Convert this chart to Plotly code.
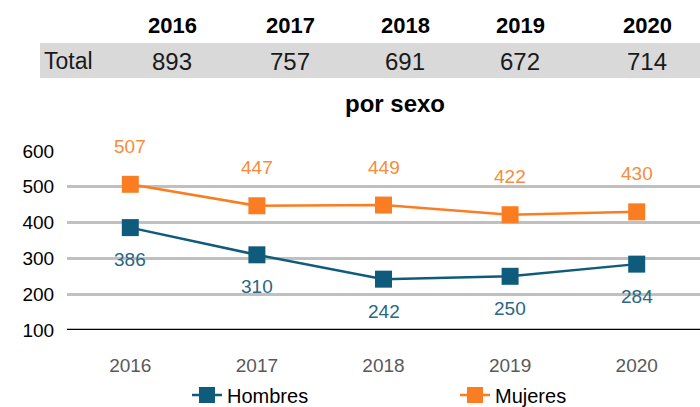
import plotly.graph_objects as go

years = ["2016", "2017", "2018", "2019", "2020"]
totals = [893, 757, 691, 672, 714]
hombres = [386, 310, 242, 250, 284]
mujeres = [507, 447, 449, 422, 430]

C_H = "#0F5B7B"
C_M = "#FB7D22"
FONT = "Liberation Sans, Arial, sans-serif"

W, H = 700, 407
ML, MR, MT, MB = 67, 0, 151, 77
PW, PH = W - ML - MR, H - MT - MB


def px_x(p):
    return (p - ML) / PW


def px_y(p):
    return (H - MB - p) / PH


fig = go.Figure()
fig.add_trace(go.Scatter(x=years, y=hombres, mode="lines+markers", name="Hombres",
                         line=dict(color=C_H, width=2.5), legend="legend",
                         marker=dict(symbol="square", size=17, color=C_H)))
fig.add_trace(go.Scatter(x=years, y=mujeres, mode="lines+markers", name="Mujeres",
                         line=dict(color=C_M, width=2.5), legend="legend2",
                         marker=dict(symbol="square", size=17, color=C_M)))

ann = []
for i, v in enumerate(mujeres):
    ann.append(dict(x=i, y=v, xref="x", yref="y", text=str(v), showarrow=False, yshift=38,
                    xanchor="center", yanchor="middle",
                    font=dict(family=FONT, size=19, color="#F98B3C")))
for i, v in enumerate(hombres):
    ann.append(dict(x=i, y=v, xref="x", yref="y", text=str(v), showarrow=False, yshift=-32,
                    xanchor="center", yanchor="middle",
                    font=dict(family=FONT, size=19, color="#2A6685")))

# Table at top
table_x = [172, 290, 405, 520, 647]
shapes = [dict(type="rect", xref="paper", yref="paper",
               x0=px_x(40), x1=px_x(700), y0=px_y(78), y1=px_y(43),
               fillcolor="#D9D9D9", line=dict(width=0), layer="below")]
for px, y, t in zip(table_x, years, totals):
    ann.append(dict(xref="paper", yref="paper", x=px_x(px), y=px_y(25), text="<b>%s</b>" % y,
                    showarrow=False, xanchor="center", yanchor="middle",
                    font=dict(family=FONT, size=22, color="#000000")))
    ann.append(dict(xref="paper", yref="paper", x=px_x(px), y=px_y(61), text=str(t),
                    showarrow=False, xanchor="center", yanchor="middle",
                    font=dict(family=FONT, size=24, color="#1A1A1A")))
ann.append(dict(xref="paper", yref="paper", x=px_x(42), y=px_y(61), text="Total",
                xanchor="left", yanchor="middle",
                showarrow=False, font=dict(family=FONT, size=23, color="#1A1A1A")))
ann.append(dict(xref="paper", yref="paper", x=px_x(395), y=px_y(103), text="<b>por sexo</b>",
                xanchor="center", yanchor="middle",
                showarrow=False, font=dict(family=FONT, size=24, color="#000000")))

shapes.append(dict(type="line", xref="paper", yref="y", x0=0, x1=1, y0=100, y1=100,
                   line=dict(color="#000000", width=2.5)))

leg_font = dict(family=FONT, size=20, color="#000000")
fig.update_layout(
    width=W, height=H, margin=dict(l=ML, r=MR, t=MT, b=MB, autoexpand=False),
    paper_bgcolor="white", plot_bgcolor="white",
    showlegend=True,
    legend=dict(orientation="h", x=px_x(187), y=px_y(395), xanchor="left", yanchor="middle",
                font=leg_font, bgcolor="rgba(0,0,0,0)"),
    legend2=dict(orientation="h", x=px_x(455), y=px_y(395), xanchor="left", yanchor="middle",
                 font=leg_font, bgcolor="rgba(0,0,0,0)"),
    annotations=ann, shapes=shapes,
    xaxis=dict(type="category", range=[-0.5, 4.5], showgrid=False, showline=False,
               ticks="outside", ticklen=18, tickcolor="rgba(0,0,0,0)", automargin=False,
               tickfont=dict(family=FONT, size=19, color="#595959"), fixedrange=True),
    yaxis=dict(range=[100, 600], tickvals=[100, 200, 300, 400, 500, 600], automargin=False,
               showgrid=True, gridcolor="#C0C0C0", gridwidth=2.5, zeroline=False,
               showline=False, ticks="outside", ticklen=8, tickcolor="rgba(0,0,0,0)",
               tickfont=dict(family=FONT, size=19, color="#000000")),
)

fig.write_html("out.html", config={"displayModeBar": False},
               post_script="document.body.style.margin='0';")
